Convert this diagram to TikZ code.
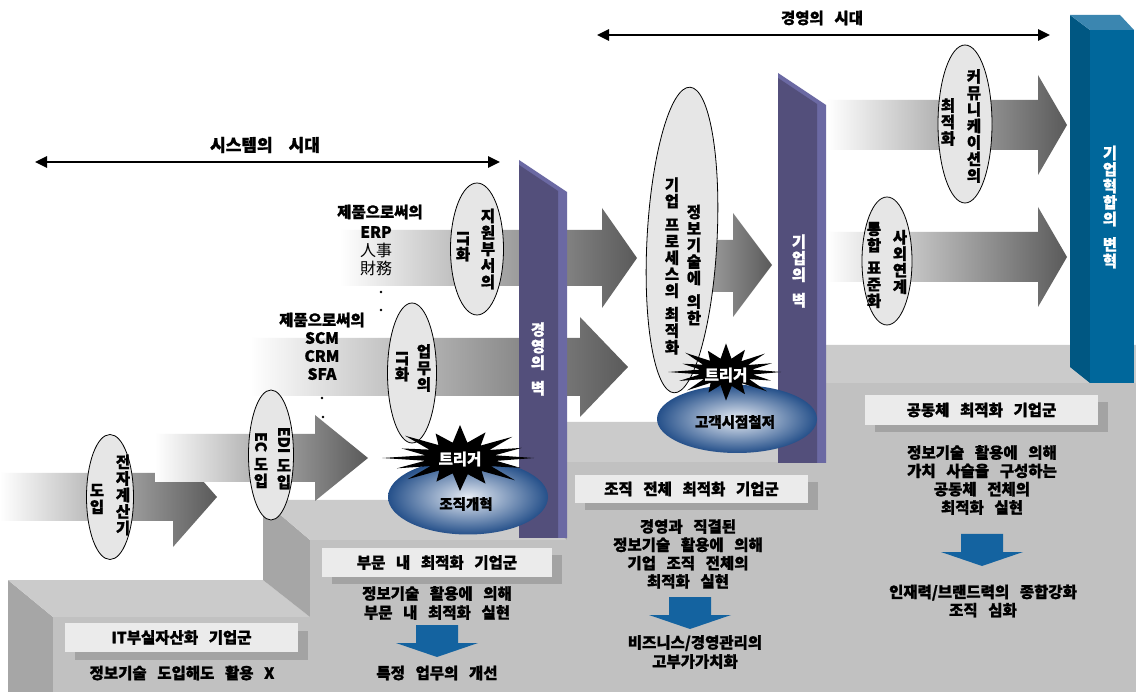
\documentclass[tikz,border=0pt]{standalone}
\usepackage{fontspec}
\setmainfont{Noto Sans CJK KR}[WordSpace=3, BoldFeatures={FakeBold=1.2}]
\usetikzlibrary{shapes.geometric,arrows.meta}
\definecolor{stfront}{HTML}{C1C1C1}
\definecolor{sttop}{HTML}{CBCBCB}
\definecolor{stside}{HTML}{A6A6A6}
\definecolor{walldk}{HTML}{534F7B}
\definecolor{walllt}{HTML}{6B69A3}
\definecolor{bluefr}{HTML}{00679B}
\definecolor{bluesd}{HTML}{005782}
\definecolor{bluetp}{HTML}{3B86B0}
\definecolor{arrdk}{HTML}{5A5A5A}
\definecolor{arrmid}{HTML}{D2D2D2}
\definecolor{ellfill}{HTML}{E6E6E6}
\definecolor{boxfill}{HTML}{EBEBEB}
\definecolor{boxshad}{HTML}{A3A3A3}
\definecolor{bluear}{HTML}{1463A0}
\definecolor{ballc}{HTML}{E8EDF5}
\definecolor{balldk}{HTML}{25508A}
\newcommand{\garr}[7]{%
  \path[left color=white, middle color=arrmid, right color=arrdk]
    ({#2},{#5-#6}) -- ({#3},{#5-#6}) -- ({#3},{#5-#7}) -- ({#4},{#5})
    -- ({#3},{#5+#7}) -- ({#3},{#5+#6}) -- ({#2},{#5+#6}) -- cycle;
  \coordinate (#1) at ({#4},{#5});}
\newcommand{\bdarr}[2]{%
  \fill[bluear] ({#1-21},{#2}) -- ({#1+21},{#2}) -- ({#1+21},{#2+18}) -- ({#1+41},{#2+18})
    -- ({#1},{#2+32}) -- ({#1-41},{#2+18}) -- ({#1-21},{#2+18}) -- cycle;}
\newcommand{\starpath}{(0:1) -- (11:0.5) -- (22:0.88) -- (33:0.5) -- (45:1.05) -- (56:0.52) -- (68:0.92) -- (79:0.55) -- (90:1.1) -- (101:0.52) -- (112:0.85) -- (124:0.5) -- (135:1.0) -- (146:0.48) -- (158:0.92) -- (169:0.48) -- (180:1.05) -- (191:0.48) -- (202:0.85) -- (214:0.5) -- (225:1.05) -- (236:0.52) -- (248:0.88) -- (259:0.52) -- (270:1.1) -- (281:0.52) -- (292:0.92) -- (304:0.5) -- (315:1.0) -- (326:0.48) -- (338:0.9) -- (349:0.48) -- cycle}
\begin{document}
\begin{tikzpicture}[x=1pt,y=-1pt,
  vcol/.style={align=center, inner sep=0pt, font=\fontsize{15.5}{16.5}\selectfont\bfseries},
  wcol/.style={vcol, text=white},
  greyell/.style={ellipse, draw=black, line width=0.8pt, fill=ellfill, inner sep=0pt},
  ball/.style={ellipse, inner sep=0pt, inner color=ballc, outer color=balldk},
  gbox/.style={rectangle, fill=boxfill, inner sep=0pt, font=\fontsize{15.5}{17}\selectfont\bfseries},
  sbox/.style={rectangle, fill=boxshad, inner sep=0pt},
  txt/.style={align=center, inner sep=0pt, font=\fontsize{15.5}{18.3}\selectfont\bfseries},
  eralbl/.style={inner sep=0pt, font=\fontsize{17}{19}\selectfont\bfseries},
  era/.style={line width=2.6pt, {Triangle[length=12pt,width=11pt]}-{Triangle[length=12pt,width=11pt]}}
]
\useasboundingbox (0,0) rectangle (1136,692);
\fill[white] (0,0) rectangle (1136,692);
% staircase
\fill[stside] (8,580) -- (53,617) -- (53,692) -- (8,692) -- cycle;
\fill[sttop] (8,580) -- (263,580) -- (310,617) -- (53,617) -- cycle;
\fill[stfront] (53,617) -- (310,617) -- (310,692) -- (53,692) -- cycle;
\fill[stside] (263,500) -- (310,540) -- (310,617) -- (263,580) -- cycle;
\fill[sttop] (263,500) -- (520,500) -- (567,540) -- (310,540) -- cycle;
\fill[stfront] (310,540) -- (567,540) -- (567,692) -- (310,692) -- cycle;
\fill[stside] (520,422) -- (567,462) -- (567,540) -- (520,500) -- cycle;
\fill[sttop] (520,422) -- (778,422) -- (826,462) -- (567,462) -- cycle;
\fill[stfront] (567,462) -- (826,462) -- (826,692) -- (567,692) -- cycle;
\fill[stside] (778,345) -- (826,383) -- (826,462) -- (778,422) -- cycle;
\fill[sttop] (778,345) -- (1136,345) -- (1136,383) -- (826,383) -- cycle;
\fill[stfront] (826,383) -- (1136,383) -- (1136,692) -- (826,692) -- cycle;
% gradient arrows
\garr{tipA}{0}{173}{217}{497}{24}{50}
\garr{tipB}{155}{315}{368}{458}{24}{43}
\garr{tipC}{250}{580}{628}{367}{29}{50}
\garr{tipD}{340}{602}{637}{258}{28}{50}
\path[left color=gray!75, right color=arrdk] (705,240) -- (733,240) -- (733,213) -- (772,265) -- (733,317) -- (733,292) -- (705,292) -- cycle;
\coordinate (tipE) at (772,265);
\garr{tipF}{827}{1038}{1067}{125}{25}{50}
\garr{tipG}{827}{1038}{1067}{257}{25}{50}
% walls
\fill[walllt] (519,160) -- (567,192) -- (567,538) -- (519,538) -- cycle;
\fill[walldk] (519,165) -- (558,191) -- (558,538) -- (519,538) -- cycle;
\fill[walllt] (778,73) -- (826,105) -- (826,463) -- (778,463) -- cycle;
\fill[walldk] (778,78) -- (817,104) -- (817,463) -- (778,463) -- cycle;
% blue box
\fill[bluesd] (1070,15) -- (1090,30) -- (1090,383) -- (1070,367) -- cycle;
\fill[bluefr] (1090,30) -- (1134,30) -- (1134,383) -- (1090,383) -- cycle;
\fill[bluetp] (1070,15) -- (1120,15) -- (1134,30) -- (1090,30) -- cycle;
\node[wcol] (blt) at (1110,207) {기\\업\\혁\\합\\의\\[9pt]변\\혁};
\node[wcol] (w1t) at (538,359) {경\\영\\의\\[9pt]벽};
\node[wcol] (w2t) at (799,271) {기\\업\\의\\[9pt]벽};
% grey ellipses
\node[greyell, minimum width=47pt, minimum height=125pt] (e1) at (110,497) {};
\node[greyell, minimum width=45pt, minimum height=130pt] (e2) at (271,455) {};
\node[greyell, minimum width=49pt, minimum height=140pt] (e3) at (412,373) {};
\node[greyell, minimum width=53pt, minimum height=132pt] (e4) at (477,249) {};
\node[greyell, minimum width=70pt, minimum height=306pt, rotate=-3] (e5) at (682,240) {};
\node[greyell, minimum width=54pt, minimum height=158pt] (e6) at (965,124) {};
\node[greyell, minimum width=50pt, minimum height=128pt] (e7) at (887,261) {};
\node[vcol] (e1r) at (123,495) {전\\자\\계\\산\\기};
\node[vcol] (e1l) at (97,499) {도\\입};
\node[vcol] (e2r) at (284,458) {\rotatebox{-90}{EDI}\\[5pt]도\\입};
\node[vcol] (e2l) at (261,460) {\rotatebox{-90}{EC}\\[5pt]도\\입};
\node[vcol] (e3r) at (424,368) {업\\무\\의};
\node[vcol] (e3l) at (402,366) {\rotatebox{-90}{IT}\\화};
\node[vcol] (e4r) at (488,249) {지\\원\\부\\서\\의};
\node[vcol] (e4l) at (463,246) {\rotatebox{-90}{IT}\\화};
\node[vcol] (e5r) at (694,265) {정\\보\\기\\술\\에\\[7pt]의\\한};
\node[vcol] (e5l) at (672,266) {기\\업\\[7pt]프\\로\\세\\스\\의\\[7pt]최\\적\\화};
\node[vcol] (e6r) at (974,126) {커\\뮤\\니\\케\\이\\션\\의};
\node[vcol] (e6l) at (948,122) {최\\적\\화};
\node[vcol] (e7r) at (900,262) {사\\외\\연\\계};
\node[vcol] (e7l) at (874,265) {통\\합\\[6pt]표\\준\\화};
% balls and triggers
\node[ball, minimum width=160pt, minimum height=75pt] (b1) at (468,497) {};
\node[ball, minimum width=160pt, minimum height=68pt] (b2) at (737,419) {};
\fill[black, shift={(460,458)}, xscale=74, yscale=30] \starpath;
\fill[black, shift={(726,372)}, xscale=55, yscale=26] \starpath;
\node[txt, text=white] (t1) at (460,459) {트리거};
\node[txt, text=white] (t2) at (726,375) {트리거};
\node[txt, font=\fontsize{14.5}{17}\selectfont\bfseries] (b1t) at (466,504) {조직개혁};
\node[txt, font=\fontsize{14.5}{17}\selectfont\bfseries] (b2t) at (735,422) {고객시점철저};
% product texts
\node[txt] (p1a) at (380,212) {제품으로써의};
\node[txt] (p1b) at (376,232) {ERP};
\node[align=center, inner sep=0pt, font=\fontsize{16}{18}\selectfont] (p1c) at (376,259) {人事\\財務};
\fill (381,292) circle (1.3);
\fill (381,310) circle (1.3);
\node[txt] (p2a) at (322,320) {제품으로써의};
\node[txt, font=\fontsize{15.5}{18}\selectfont\bfseries] (p2b) at (322,356) {SCM\\CRM\\SFA};
\fill (322,398) circle (1.3);
\fill (323,417) circle (1.3);
% group boxes
\node[sbox, minimum width=233pt, minimum height=29pt] (x1s) at (191.5,645.5) {};
\node[gbox, minimum width=233pt, minimum height=29pt] (x1) at (181.5,637.5) {IT부실자산화 기업군};
\node[sbox, minimum width=230pt, minimum height=29pt] (x2s) at (447,569.5) {};
\node[gbox, minimum width=230pt, minimum height=29pt] (x2) at (437,562.5) {부문 내 최적화 기업군};
\node[sbox, minimum width=233pt, minimum height=28pt] (x3s) at (701.5,496) {};
\node[gbox, minimum width=233pt, minimum height=28pt] (x3) at (691.5,489) {조직 전체 최적화 기업군};
\node[sbox, minimum width=233pt, minimum height=30pt] (x4s) at (991.5,417) {};
\node[gbox, minimum width=233pt, minimum height=30pt] (x4) at (981.5,410) {공동체 최적화 기업군};
\node[txt] (d1) at (182,673) {정보기술 도입해도 활용 X};
\node[txt, font=\fontsize{15.5}{19}\selectfont\bfseries] (d2) at (437,603) {정보기술 활용에 의해\\부문 내 최적화 실현};
\bdarr{437}{625}
\node[txt] (r2) at (437,673) {특정 업무의 개선};
\node[txt] (d3) at (688,554) {경영과 직결된\\정보기술 활용에 의해\\기업 조직 전체의\\최적화 실현};
\bdarr{690}{597}
\node[txt, font=\fontsize{15.5}{19}\selectfont\bfseries] (r3) at (695,652) {비즈니스/경영관리의\\고부가가치화};
\node[txt] (d4) at (982,480) {정보기술 활용에 의해\\가치 사슬을 구성하는\\공동체 전체의\\최적화 실현};
\bdarr{982}{534}
\node[txt] (r4) at (983,601) {인재력/브랜드력의 종합강화\\조직 심화};
% era arrows
\coordinate (sa) at (35,162);
\coordinate (sb) at (500,162);
\draw[era] (sa) -- (sb);
\node[eralbl] (sl) at (265,145) {시스템의\hspace{16pt}시대};
\coordinate (ma) at (597,35);
\coordinate (mb) at (1050,35);
\draw[era] (ma) -- (mb);
\node[txt] (ml) at (822,18) {경영의 시대};
\end{tikzpicture}
\end{document}
